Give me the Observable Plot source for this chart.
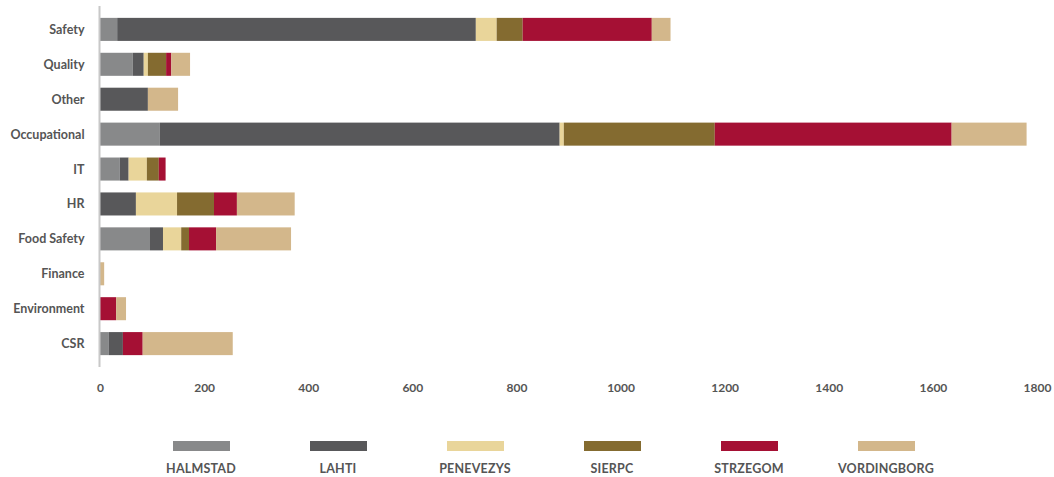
<!DOCTYPE html>
<html>
<head>
<meta charset="utf-8">
<script src="https://cdn.jsdelivr.net/npm/d3@7"></script>
<script src="https://cdn.jsdelivr.net/npm/@observablehq/plot@0.6"></script>
<style>
  html, body { margin: 0; padding: 0; background: #fff; overflow: hidden; }
  body { width: 1054px; height: 477px; font-family: Lato, "Open Sans", sans-serif; }
  #chart svg { display: block; }
  #legend { display: flex; justify-content: center; margin-top: 41px; padding-left: 33px; }
  .item { width: 137px; display: flex; flex-direction: column; align-items: center; }
  .sw { width: 57px; height: 10px; }
  .lab { margin-top: 10px; font-size: 12.5px; font-weight: 700; color: #555; letter-spacing: 0.2px; }
</style>
</head>
<body>
<div id="chart"></div>
<div id="legend"></div>
<script>
const categories = ["Safety", "Quality", "Other", "Occupational", "IT", "HR", "Food Safety", "Finance", "Environment", "CSR"];
const seriesNames = ["HALMSTAD", "LAHTI", "PENEVEZYS", "SIERPC", "STRZEGOM", "VORDINGBORG"];
const seriesColors = ["#88898a", "#58585a", "#e9d59a", "#846b30", "#a51034", "#d3b78b"];
const halmstad    = [33, 63, 0, 115, 38, 0, 96, 0, 0, 17];
const lahti       = [689, 21, 92, 768, 17, 69, 25, 0, 0, 27];
const penevezys   = [40, 8, 0, 8, 35, 79, 35, 0, 0, 0];
const sierpc      = [50, 35, 0, 290, 23, 71, 15, 0, 0, 0];
const strzegom    = [248, 10, 0, 455, 13, 44, 52, 0, 31, 38];
const vordingborg = [36, 36, 58, 144, 0, 111, 144, 8, 19, 173];
const xTicks = [0, 200, 400, 600, 800, 1000, 1200, 1400, 1600, 1800];

const seriesValues = [halmstad, lahti, penevezys, sierpc, strzegom, vordingborg];
const rows = [];
seriesNames.forEach((s, si) => {
  categories.forEach((c, ci) => {
    rows.push({category: c, series: s, value: seriesValues[si][ci]});
  });
});

const chart = Plot.plot({
  width: 1054,
  height: 400,
  marginLeft: 100,
  marginRight: 17,
  marginTop: 6,
  marginBottom: 33,
  style: {fontFamily: "Lato, 'Open Sans', sans-serif", fontSize: "12px", fontWeight: 700, color: "#555"},
  x: {domain: [0, 1800], ticks: xTicks, tickFormat: d => String(d), label: null},
  y: {domain: categories, padding: 0.34, round: false, label: null},
  color: {domain: seriesNames, range: seriesColors},
  marks: [
    Plot.barX(rows, {y: "category", x: "value", fill: "series", order: seriesNames}),
    Plot.ruleX([0], {stroke: "#c8c8c8", strokeWidth: 2, dx: -1}),
    Plot.axisX({ticks: xTicks, tickSize: 0, tickPadding: 16, tickFormat: d => String(d), fill: "#555", fontWeight: 700, label: null}),
    Plot.axisY({tickSize: 0, tickPadding: 16, fill: "#555", fontWeight: 700, fontSize: 12.5, label: null})
  ]
});
document.getElementById("chart").appendChild(chart);

const legend = document.getElementById("legend");
seriesNames.forEach((s, i) => {
  const item = document.createElement("div");
  item.className = "item";
  const sw = document.createElement("div");
  sw.className = "sw";
  sw.style.background = seriesColors[i];
  const lab = document.createElement("div");
  lab.className = "lab";
  lab.textContent = s;
  item.appendChild(sw);
  item.appendChild(lab);
  legend.appendChild(item);
});
</script>
</body>
</html>
